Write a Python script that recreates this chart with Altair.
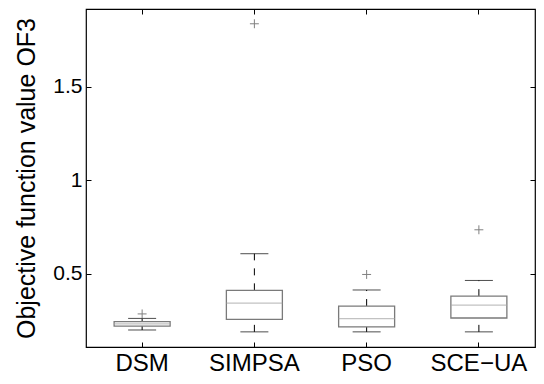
import altair as alt
import pandas as pd

categories = ["DSM", "SIMPSA", "PSO", "SCE\u2212UA"]
whisker_low = [0.200, 0.190, 0.190, 0.190]
quart1 = [0.221, 0.257, 0.217, 0.264]
median = [0.233, 0.344, 0.261, 0.333]
quart3 = [0.245, 0.412, 0.328, 0.381]
whisker_high = [0.262, 0.608, 0.414, 0.465]
outlier_cat = ["DSM", "SIMPSA", "PSO", "SCE\u2212UA"]
outlier_val = [0.286, 1.838, 0.497, 0.736]
y_ticks = [0.5, 1.0, 1.5]

df = pd.DataFrame({
    "cat": categories, "lo": whisker_low, "q1": quart1, "med": median,
    "q3": quart3, "hi": whisker_high,
})
dfo = pd.DataFrame({"cat": outlier_cat, "val": outlier_val})

FONT = "Liberation Sans"
ysc = alt.Scale(domain=[0.109, 1.917], nice=False, zero=False)
xsc = alt.Scale(domain=categories, paddingInner=0, paddingOuter=0)

x_none = alt.X("cat:N", scale=xsc, axis=None, sort=categories)

left_axis = alt.Axis(
    orient="left", values=y_ticks, format="~g", grid=False, domain=False,
    offset=-5, tickSize=5, tickColor="black", labelPadding=4,
    labelFont=FONT, labelFontSize=21, labelColor="black",
    title="Objective function value OF3", titleFont=FONT, titleFontSize=25,
    titleFontWeight="normal", titleColor="black", titlePadding=13,
)
bottom_axis = alt.Axis(
    orient="bottom", grid=False, domain=False, offset=-5, tickSize=5,
    tickColor="black", labelPadding=4, labelAngle=0, labelFont=FONT,
    labelFontSize=24, labelColor="black", title=None,
)
right_axis = alt.Axis(
    orient="right", values=y_ticks, grid=False, domain=False, offset=-5,
    tickSize=5, tickColor="black", labels=False, title=None,
)
top_axis = alt.Axis(
    orient="top", grid=False, domain=False, offset=-5, tickSize=5,
    tickColor="black", labels=False, title=None,
)

base = alt.Chart(df)

whisk_up = base.mark_rule(color="black", strokeWidth=1, strokeDash=[7, 8]).encode(
    x=x_none, y=alt.Y("q3:Q", scale=ysc, axis=None), y2="hi:Q")
whisk_dn = base.mark_rule(color="black", strokeWidth=1, strokeDash=[7, 8]).encode(
    x=x_none, y=alt.Y("lo:Q", scale=ysc, axis=None), y2="q1:Q")
cap_hi = base.mark_tick(color="black", size=28, thickness=1).encode(
    x=x_none, y=alt.Y("hi:Q", scale=ysc, axis=None))
cap_lo = base.mark_tick(color="black", size=28, thickness=1).encode(
    x=alt.X("cat:N", scale=xsc, axis=top_axis, sort=categories),
    y=alt.Y("lo:Q", scale=ysc, axis=right_axis))
box = base.mark_bar(fill="white", stroke="#7a7a7a", strokeWidth=1.3, size=56).encode(
    x=alt.X("cat:N", scale=xsc, axis=bottom_axis, sort=categories),
    y=alt.Y("q1:Q", scale=ysc, axis=left_axis), y2="q3:Q")
med = base.mark_tick(color="#a8a8a8", size=56, thickness=1.3).encode(
    x=x_none, y=alt.Y("med:Q", scale=ysc, axis=None))
outl = alt.Chart(dfo).mark_point(
    shape="M-1,0L1,0M0,-1L0,1", size=80, filled=False, color="#808080",
    strokeWidth=1, opacity=1).encode(
    x=x_none, y=alt.Y("val:Q", scale=ysc, axis=None))

chart = alt.layer(whisk_up, whisk_dn, box, med, cap_hi, cap_lo, outl).resolve_axis(
    x="independent", y="independent"
).properties(
    width=449, height=338,
    autosize=alt.AutoSizeParams(type="none"),
    padding={"left": 78, "top": 1, "right": 1, "bottom": 28},
    background="white",
).configure_view(stroke="black", strokeWidth=1.2)

chart.save("out.html", embed_options={"renderer": "svg", "actions": False})
